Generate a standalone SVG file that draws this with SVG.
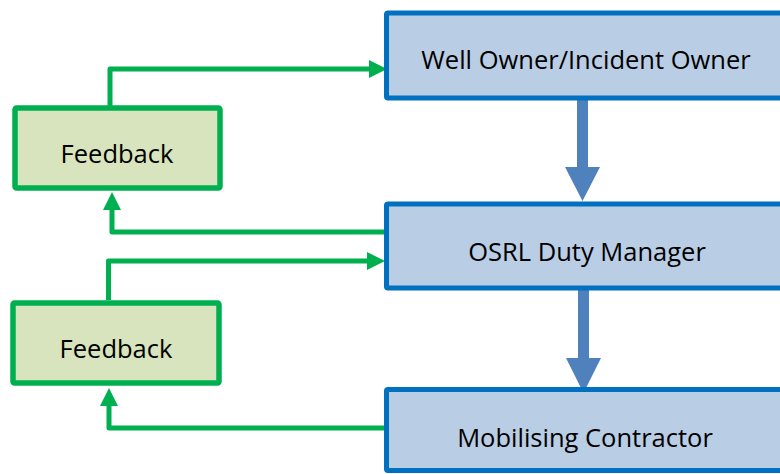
<svg xmlns="http://www.w3.org/2000/svg" width="780" height="474" viewBox="0 0 780 474">
<defs>
<style>
.fb rect{fill:#D7E4BD;stroke:#00B050;stroke-width:5.5}
.bx rect{fill:#B9CDE5;stroke:#0070C0;stroke-width:5}
text{font-family:"Open Sans","Liberation Sans",sans-serif;font-size:25.5px;fill:#000;text-anchor:middle}
.g{fill:none;stroke:#00B050;stroke-width:5;stroke-linejoin:round}
.gh{fill:#00B050}
.bl{fill:#4F81BD}
</style>
</defs>
<rect width="780" height="474" fill="#fff"/>
<g id="connectors">
<path class="g" d="M110 106 V69 H370"/>
<polygon class="gh" points="369,60 387,69 369,78"/>
<path class="g" d="M386 232 H112 V209"/>
<polygon class="gh" points="103,210 112,192 121,210"/>
<path class="g" d="M108.5 300 V261 H368"/>
<polygon class="gh" points="367,252 385,261 367,270"/>
<path class="g" d="M386 428 H109 V404"/>
<polygon class="gh" points="100,406 109,388 118,406"/>
<polygon class="bl" points="577,99 588,99 588,167 600,167 582.5,201 565,167 577,167"/>
<polygon class="bl" points="578,289 589,289 589,358 601,358 583.5,393 566,358 578,358"/>
</g>
<g id="feedback1" class="fb">
<rect x="15" y="108" width="205" height="80" rx="1.5"/>
<text x="117" y="163">Feedback</text>
</g>
<g id="feedback2" class="fb">
<rect x="13" y="303" width="206" height="80" rx="1.5"/>
<text x="116" y="358">Feedback</text>
</g>
<g id="wellowner" class="bx">
<rect x="386.5" y="13" width="400" height="85" rx="1.5"/>
<text x="586" y="69">Well Owner/Incident Owner</text>
</g>
<g id="osrl" class="bx">
<rect x="386.5" y="204" width="400" height="84" rx="1.5"/>
<text x="587" y="261">OSRL Duty Manager</text>
</g>
<g id="mobilising" class="bx">
<rect x="386.5" y="389.5" width="400" height="81" rx="1.5"/>
<text x="585" y="447">Mobilising Contractor</text>
</g>
</svg>
